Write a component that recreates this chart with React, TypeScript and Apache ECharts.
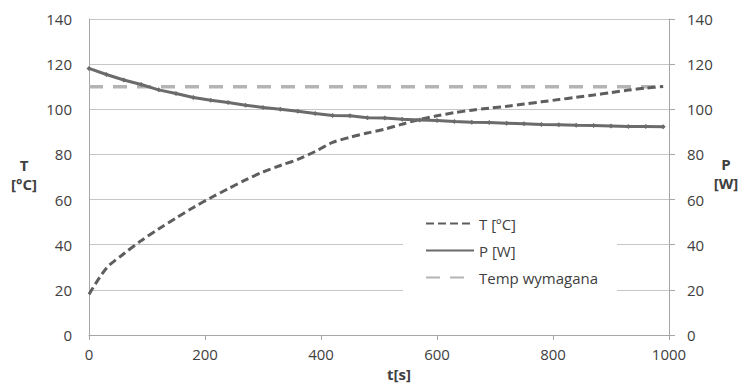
import React, { useEffect, useRef } from "react";
import * as echarts from "echarts";

const timeS = [0, 30, 60, 90, 120, 150, 180, 210, 240, 270, 300, 330, 360, 390, 420, 450, 480, 510, 540, 570, 600, 630, 660, 690, 720, 750, 780, 810, 840, 870, 900, 930, 960, 990];
const tempC = [18, 29.6, 36, 41.8, 47, 51.8, 56.5, 60.8, 64.8, 68.7, 72.2, 75.1, 77.8, 81.3, 85.3, 87.6, 89.5, 91.2, 93.4, 95.5, 97.1, 98.5, 99.6, 100.5, 101.3, 102.3, 103.3, 104.3, 105.3, 106.3, 107.4, 108.5, 109.4, 110.1];
const powerW = [118.1, 115.4, 113.0, 111.0, 108.6, 107.0, 105.2, 104.0, 103.0, 101.8, 100.8, 100.0, 99.1, 98.1, 97.2, 97.1, 96.3, 96.1, 95.6, 95.3, 95.0, 94.6, 94.3, 94.1, 93.8, 93.6, 93.3, 93.1, 92.9, 92.8, 92.6, 92.4, 92.4, 92.3];
const requiredTempValue = 110;
const requiredTempRange = [0, 990];

const seriesNames = ["T [ºC]", "P [W]", "Temp wymagana"];
const leftTitle = ["T", "[°C]"];
const rightTitle = ["P", "[W]"];
const xTitle = "t[s]";

const FONT = "'Open Sans', sans-serif";
const TEXT = "#404040";

export default function App() {
  const ref = useRef<HTMLDivElement>(null);
  useEffect(() => {
    if (!ref.current) return;
    const chart = echarts.init(ref.current, undefined, { renderer: "svg" });
    const tData = timeS.map((t, i) => [t, tempC[i]]);
    const pData = timeS.map((t, i) => [t, powerW[i]]);
    const reqData = requiredTempRange.map((t) => [t, requiredTempValue]);
    const plain = (v: number) => String(v);
    const titleText = (text: string, x: number, y: number) => ({
      type: "text",
      x,
      y,
      style: {
        text,
        fill: TEXT,
        font: `bold 15px ${FONT}`,
        textAlign: "center",
        textVerticalAlign: "middle",
      },
    });
    chart.setOption({
      animation: false,
      textStyle: { fontFamily: FONT },
      grid: { left: 89, right: 70, top: 19, bottom: 50 },
      xAxis: {
        type: "value",
        min: 0,
        max: 1000,
        interval: 200,
        axisLine: { show: true, lineStyle: { color: "#a6a6a6", width: 1 } },
        axisTick: { show: true, length: 5, lineStyle: { color: "#a6a6a6" } },
        splitLine: { show: false },
        axisLabel: { color: TEXT, fontSize: 15, margin: 11, fontFamily: FONT, formatter: plain },
      },
      yAxis: [
        {
          type: "value",
          min: 0,
          max: 140,
          interval: 20,
          axisLine: { show: true, lineStyle: { color: "#a6a6a6", width: 1 } },
          axisTick: { show: false },
          splitLine: { show: true, lineStyle: { color: "#c6c6c6", width: 1 } },
          axisLabel: { color: TEXT, fontSize: 15, margin: 17, fontFamily: FONT, formatter: plain },
        },
        {
          type: "value",
          min: 0,
          max: 140,
          interval: 20,
          position: "right",
          axisLine: { show: true, lineStyle: { color: "#a6a6a6", width: 1 } },
          axisTick: { show: true, length: 6, inside: false, lineStyle: { color: "#a6a6a6" } },
          splitLine: { show: false },
          axisLabel: { color: TEXT, fontSize: 15, margin: 18, fontFamily: FONT, formatter: plain },
        },
      ],
      legend: {
        left: 403,
        top: 207,
        orient: "vertical",
        backgroundColor: "#ffffff",
        padding: [9, 19, 8, 22],
        itemWidth: 48,
        itemHeight: 14,
        itemGap: 12,
        data: [
          { name: seriesNames[0], itemStyle: { opacity: 0 } },
          { name: seriesNames[1], itemStyle: { opacity: 0 } },
          { name: seriesNames[2], itemStyle: { opacity: 0 } },
        ],
        textStyle: { color: TEXT, fontSize: 15, fontFamily: FONT, lineHeight: 14 },
      },
      series: [
        {
          name: seriesNames[2],
          type: "line",
          yAxisIndex: 0,
          data: reqData,
          symbol: "none",
          lineStyle: { color: "#b4b4b4", width: 3.5, type: [14, 10] },
          itemStyle: { color: "#b4b4b4" },
          z: 2,
        },
        {
          name: seriesNames[0],
          type: "line",
          yAxisIndex: 0,
          data: tData,
          symbol: "none",
          smooth: 0.3,
          lineStyle: { color: "#5e5e5e", width: 3, type: [8, 4] },
          itemStyle: { color: "#5e5e5e" },
          z: 3,
        },
        {
          name: seriesNames[1],
          type: "line",
          yAxisIndex: 1,
          data: pData,
          symbol: "diamond",
          symbolSize: 5,
          showSymbol: true,
          lineStyle: { color: "#6b6b6b", width: 3 },
          itemStyle: { color: "#6b6b6b" },
          z: 4,
        },
      ],
      graphic: [
        titleText(leftTitle[0], 24, 165),
        titleText(leftTitle[1], 24, 184),
        titleText(rightTitle[0], 726, 164),
        titleText(rightTitle[1], 726, 183),
        titleText(xTitle, 399, 374),
      ],
    });
    return () => chart.dispose();
  }, []);
  return <div ref={ref} style={{ width: 739, height: 385, position: "absolute", left: 0, top: 0 }} />;
}
